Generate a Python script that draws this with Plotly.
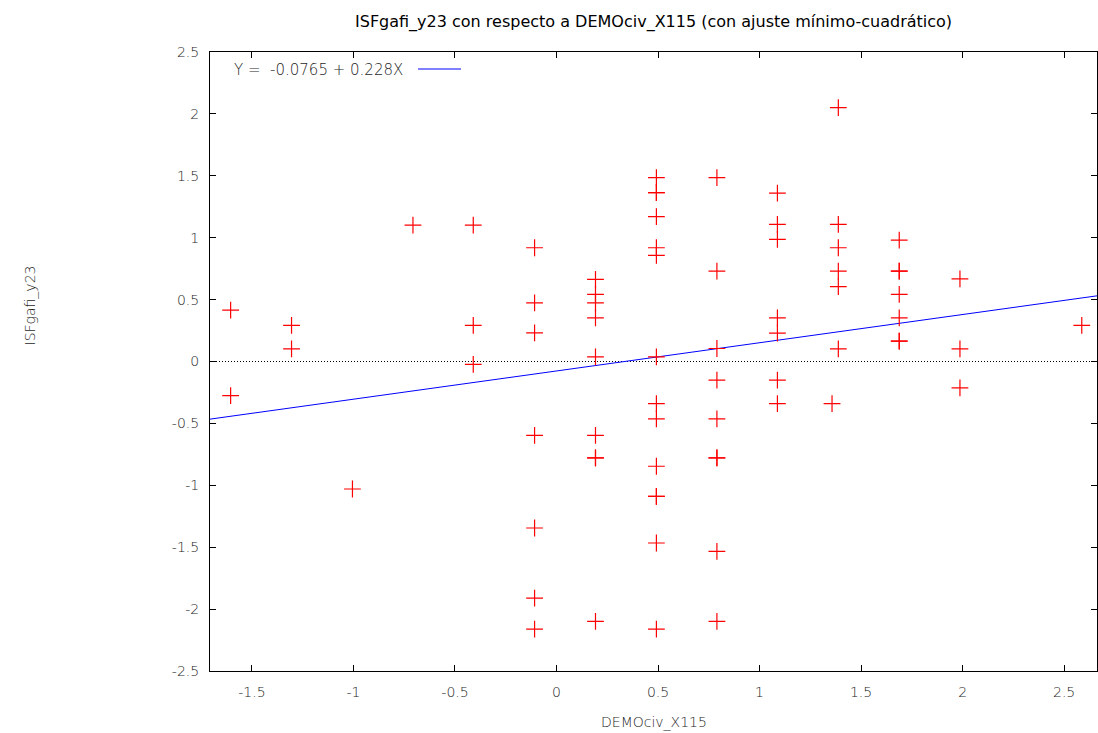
import plotly.graph_objects as go

# ---- data ----
x_vals = [
    -1.605, -1.605,
    -1.305, -1.305,
    -1.005,
    -0.707,
    -0.41, -0.41, -0.41,
    -0.108, -0.108, -0.108, -0.108, -0.108, -0.108, -0.108,
    0.192, 0.192, 0.192, 0.192, 0.192, 0.192, 0.192, 0.192, 0.192,
    0.492, 0.492, 0.492, 0.492, 0.492, 0.492, 0.492, 0.492, 0.492, 0.492, 0.492, 0.492, 0.492, 0.492,
    0.79, 0.79, 0.79, 0.79, 0.79, 0.79, 0.79, 0.79, 0.79,
    1.088, 1.088, 1.088, 1.088, 1.088, 1.088, 1.088,
    1.357,
    1.388, 1.388, 1.388, 1.388, 1.388, 1.388,
    1.688, 1.688, 1.688, 1.688, 1.688, 1.688, 1.688,
    1.987, 1.987, 1.987,
    2.587,
]
y_vals = [
    0.415, -0.275,
    0.291, 0.102,
    -1.03,
    1.102,
    1.102, 0.291, -0.024,
    0.919, 0.474, 0.232, -0.596, -1.345, -1.911, -2.161,
    0.663, 0.542, 0.474, 0.353, 0.038, -0.596, -0.779, -0.779, -2.099,
    1.485, 1.364, 1.364, 1.170, 0.919, 0.857, 0.038, -0.340, -0.464, -0.846, -1.089, -1.089, -1.466, -2.161,
    1.485, 0.730, 0.105, -0.151, -0.464, -0.779, -0.779, -1.533, -2.099,
    1.360, 1.108, 0.986, 0.353, 0.229, -0.151, -0.340,
    -0.340,
    2.051, 1.108, 0.919, 0.730, 0.604, 0.102,
    0.981, 0.730, 0.730, 0.542, 0.353, 0.164, 0.164,
    0.668, 0.102, -0.213,
    0.291,
]
fit_intercept = -0.0765
fit_slope = 0.228
x_range = [-1.7066, 2.662]
y_range = [-2.5, 2.5]
x_ticks = [-1.5, -1, -0.5, 0, 0.5, 1, 1.5, 2, 2.5]
y_ticks = [2.5, 2, 1.5, 1, 0.5, 0, -0.5, -1, -1.5, -2, -2.5]

title_text = "ISFgafi_y23 con respecto a DEMOciv_X115 (con ajuste mínimo-cuadrático)"
x_title = "DEMOciv_X115"
y_title = "ISFgafi_y23"
legend_text = "Y =\u00a0 -0.0765 + 0.228X"


def fmt(v):
    return "%g" % v


FONT = "DejaVu Sans"
TICKCOL = "#1e1e1e"
TICKFONT = dict(family=FONT, size=14, color=TICKCOL, weight=300)

fig = go.Figure()

# zero line (dotted)
fig.add_trace(go.Scatter(
    x=x_range, y=[0, 0], mode="lines",
    line=dict(color="black", width=1, dash="1px,2px"),
    hoverinfo="skip", showlegend=False,
))

# fit line
fit_x = x_range
fit_y = [fit_intercept + fit_slope * v for v in fit_x]
fig.add_trace(go.Scatter(
    x=fit_x, y=fit_y, mode="lines",
    line=dict(color="#0000ff", width=1),
    showlegend=False,
))

# scatter points
fig.add_trace(go.Scatter(
    x=x_vals, y=y_vals, mode="markers",
    marker=dict(symbol="cross-thin", size=12, color="red",
                line=dict(color="red", width=1.2)),
    showlegend=False,
))

axis_common = dict(
    showgrid=False, zeroline=False, showline=True, linecolor="black",
    linewidth=1, mirror="allticks", ticks="inside", ticklen=6,
    tickcolor="black", tickfont=TICKFONT,
)

fig.update_xaxes(
    range=x_range, tickvals=x_ticks, ticktext=[fmt(v) for v in x_ticks],
    ticklabelstandoff=8, **axis_common,
)
fig.update_yaxes(
    range=y_range, tickvals=y_ticks, ticktext=[fmt(v) for v in y_ticks],
    ticklabelstandoff=7, **axis_common,
)

fig.update_layout(
    width=1098, height=733,
    margin=dict(l=210, r=1, t=52, b=62),
    paper_bgcolor="white", plot_bgcolor="white",
    font=dict(family=FONT, size=14, color="black"),
    annotations=[
        dict(text=title_text, xref="paper", yref="paper", x=0.5, y=1,
             yshift=30, showarrow=False, yanchor="middle",
             font=dict(family=FONT, size=16, color="black")),
        dict(text=x_title, xref="paper", yref="paper", x=0.5, y=0,
             yshift=-51, showarrow=False, yanchor="middle",
             font=TICKFONT),
        dict(text=y_title, xref="paper", yref="paper", x=0, y=0.5,
             xshift=-180, yshift=56, showarrow=False, textangle=-90,
             xanchor="center", yanchor="middle",
             font=TICKFONT),
        dict(text=legend_text, xref="paper", yref="paper", x=0, y=1,
             xshift=22, yshift=-18, showarrow=False, xanchor="left",
             yanchor="middle",
             font=dict(family=FONT, size=15, color=TICKCOL, weight=300)),
    ],
    shapes=[
        dict(type="line", xref="paper", yref="paper",
             x0=(418 - 210) / 887, x1=(461 - 210) / 887,
             y0=1 - 17 / 619, y1=1 - 17 / 619,
             line=dict(color="#0000ff", width=1)),
    ],
)

fig.write_html(
    "out.html",
    config={"displayModeBar": False},
    post_script="document.body.style.margin='0';document.body.style.overflow='hidden';",
)
